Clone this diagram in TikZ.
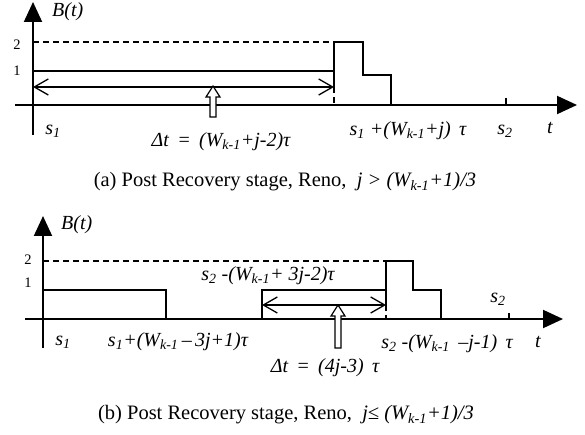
\documentclass[tikz,border=0pt]{standalone}
\usepackage{fontspec}
\setmainfont{Liberation Serif}
\usetikzlibrary{arrows.meta}
\newcommand{\Wk}{W\textsubscript{k-1}}
\newcommand{\sx}[1]{s\textsubscript{#1}}
\newcommand{\hollowup}[3]{% x, tip y, bottom y
  \draw[line width=1.2pt,fill=white] (#1,#2) -- (#1+7,#2+11) -- (#1+3,#2+11) -- (#1+3,#3)
    -- (#1-3,#3) -- (#1-3,#2+11) -- (#1-7,#2+11) -- cycle;}
\tikzset{
  ax/.style={line width=2pt,-{Triangle[length=20pt,width=18pt]}},
  ln/.style={line width=1.3pt},
  dsh/.style={line width=1.3pt,dash pattern=on 6pt off 4pt},
  dbl/.style={line width=1.3pt,{Straight Barb[length=14pt,width=16pt]}-{Straight Barb[length=14pt,width=16pt]}},
  lbl/.style={font=\fontsize{20}{23}\selectfont\itshape,inner sep=0pt},
  num/.style={font=\fontsize{14.5}{16}\selectfont,inner sep=0pt},
  captxt/.style={font=\fontsize{20.5}{24}\selectfont,inner sep=0pt}
}
\begin{document}
\begin{tikzpicture}[x=1pt,y=-1pt]
\useasboundingbox (0,0) rectangle (585,435);
      % (a)
      \draw[ax] (33,135) -- (33,2);
      \draw[ax] (15,105) -- (577,105);
      \node[lbl,right] (Ba) at (52,12) {B(t)};
      \node[num] (twoa) at (17,45) {2};
      \node[num] (onea) at (17,71) {1};
        \draw[dsh] (33,42) -- (334,42);
        \draw[ln] (33,71) -- (334,71);
        \draw[ln] (334,87) -- (334,42) -- (363,42) -- (363,75) -- (391,75) -- (391,105);
        \draw[dsh] (334,87) -- (334,105);
        \draw[dbl] (33,87) -- (334,87);
        \hollowup{213}{86}{117}
        \draw[ln] (506,98) -- (506,105);
      \node[lbl] (s1a) at (53,131) {\sx{1}};
      \node[lbl] (dta) at (221,142) {Δt\, = \,(\Wk+j-2)τ};
      \node[lbl] (enda) at (408,131) {\sx{1} +(\Wk+j) \,τ};
      \node[lbl] (s2a) at (505,131) {\sx{2}};
      \node[lbl] (ta) at (550,128) {t};
      \node[captxt] (capa) at (285,182) {(a) Post Recovery stage, Reno,\ \ \textit{j > (\Wk+1)/3}};
      % (b)
      \draw[ax] (43,348) -- (43,216);
      \draw[ax] (25,319) -- (563,319);
      \node[lbl,right] (Bb) at (61,225) {B(t)};
      \node[num] (twob) at (28,260) {2};
      \node[num] (oneb) at (28,283) {1};
        \draw[dsh] (43,261) -- (386,261);
        \draw[ln] (43,290) -- (166,290) -- (166,319);
        \draw[ln] (262,319) -- (262,290) -- (386,290);
        \draw[ln] (386,305) -- (386,261) -- (413,261) -- (413,290) -- (441,290) -- (441,319);
        \draw[dsh] (386,305) -- (386,319);
        \draw[dbl] (262,305) -- (386,305);
        \hollowup{338}{305}{348}
        \draw[ln] (509,313) -- (509,319);
      \node[lbl] (lenb) at (268,276) {\sx{2} -(\Wk+ 3j-2)τ};
      \node[lbl] (s1b) at (63,342) {\sx{1}};
      \node[lbl] (midb) at (178,342) {\sx{1}+(\Wk\,–\,3j+1)τ};
      \node[lbl] (endb) at (447,344) {\sx{2} -(\Wk\, –j-1) \,τ};
      \node[lbl] (tb) at (538,342) {t};
      \node[lbl] (s2b) at (498,299) {\sx{2}};
      \node[lbl] (dtb) at (325,368) {Δt\, = \,(4j-3) \,τ};
      \node[captxt] (capb) at (286,415) {(b) Post Recovery stage, Reno,\ \ \textit{j≤ (\Wk +1)/3}};
    \end{tikzpicture}
\end{document}
